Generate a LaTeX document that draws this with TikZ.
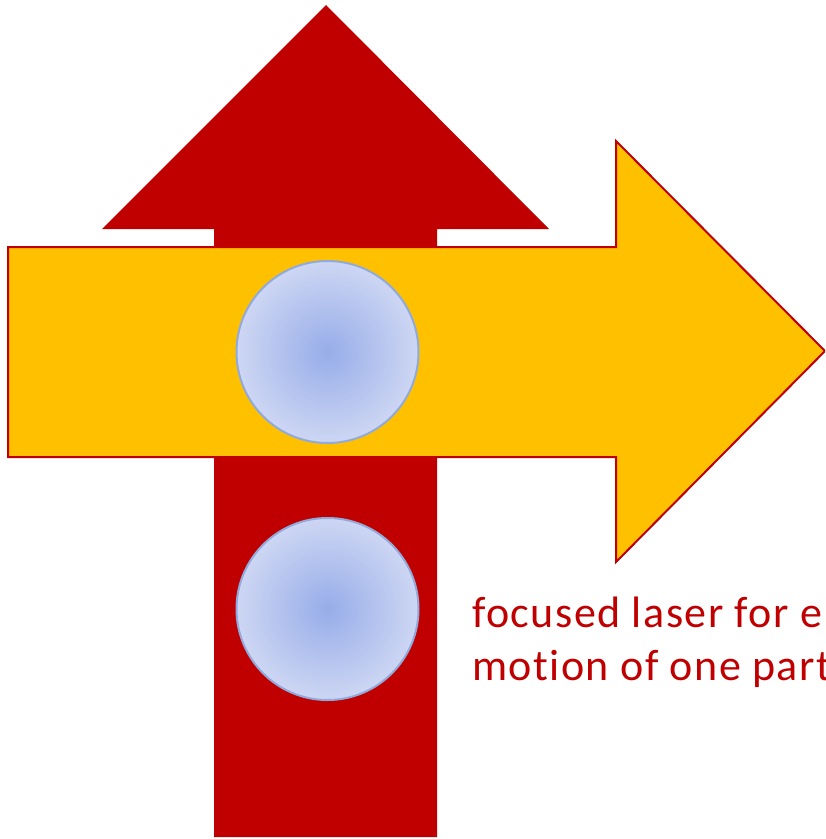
\documentclass[tikz,border=0pt]{standalone}
\usepackage{fontspec}
\setmainfont{Carlito}[Ligatures={NoCommon}]
\newfontfamily\labelfont{Carlito}[Ligatures={NoCommon}, LetterSpace=3.3]
\definecolor{darkred}{HTML}{C00000}
\definecolor{gold}{HTML}{FFC000}
\definecolor{ballin}{HTML}{97ADE9}
\definecolor{ballout}{HTML}{CDD6F3}
\definecolor{ballline}{HTML}{8FAADC}
\tikzset{
  redarrow/.style={fill=darkred, draw=none},
  yellowarrow/.style={fill=gold, draw=darkred, line width=1.5pt, line join=miter},
  particle/.style={circle, minimum size=136.5pt, inner sep=0pt, draw=ballline, line width=1.5pt, inner color=ballin, outer color=ballout},
  label/.style={text=darkred, font=\labelfont\fontsize{33}{40}\selectfont, anchor=base west, inner sep=0pt}
}
\begin{document}
\begin{tikzpicture}[x=0.75pt, y=-0.75pt]
\useasboundingbox (0,0) rectangle (825,839);
\clip (0,0) rectangle (825,839);
% red up arrow
\path[redarrow] (214,837) -- (214,229) -- (102,229) -- (326,5) -- (549,229) -- (437,229) -- (437,837) -- cycle;
% yellow right arrow
\path[yellowarrow] (8,247) -- (616,247) -- (616,141) -- (825,351) -- (616,562) -- (616,457) -- (8,457) -- cycle;
% particles
\node[particle] (p1) at (327.5,352) {};
\node[particle] (p2) at (327.5,609) {};
% label
\node[label] (t1) at (472,627) {focused laser for e};
\node[label] (t2) at (472,680) {motion of one part};
\end{tikzpicture}
\end{document}
